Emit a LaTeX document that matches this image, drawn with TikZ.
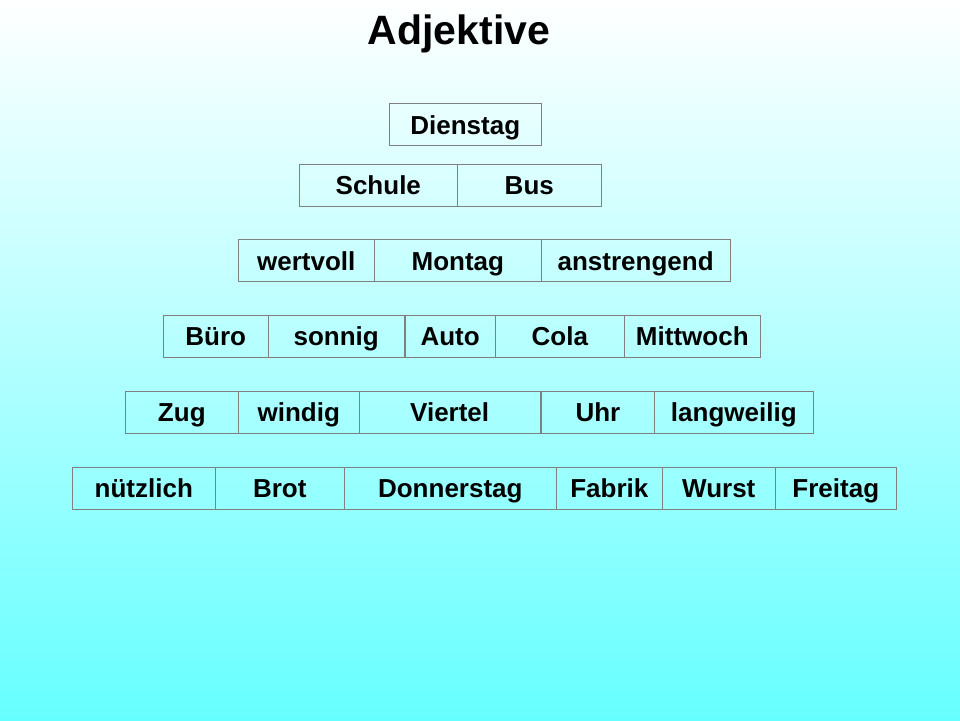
\documentclass[tikz,border=0pt]{standalone}
\usepackage{fontspec}
\setmainfont{Liberation Sans}
\usepackage{xcolor}
\usepackage{tikz}
\usetikzlibrary{positioning}
\definecolor{cyanbg}{HTML}{66FFFF}
\definecolor{boxline}{HTML}{808080}

\begin{document}
\begin{tikzpicture}[x=1pt, y=-1pt, node distance=0pt,
    word/.style={draw=boxline, line width=1pt, rectangle, inner sep=0pt, outer sep=0pt,
      minimum height=42pt, font=\fontsize{26}{30}\selectfont\bfseries,
      text height=18.6pt, text depth=0pt}]
           \fill[top color=white, bottom color=cyanbg] (0,0) rectangle (960,720);
           \node[font=\fontsize{41}{48}\selectfont\bfseries, text height=29.5pt, text depth=0pt, inner sep=0pt] (title) at (459,30) {Adjektive};
           % row 1
           \node[word, minimum width=152pt, anchor=west] (dienstag) at (389.3,124.7) {Dienstag};
           % row 2
           \node[word, minimum width=158pt, anchor=west] (schule) at (299.3,185.2) {Schule};
           \node[word, minimum width=144pt] (bus) [right=of schule] {Bus};
           % row 3
           \node[word, minimum width=136pt, anchor=west] (wertvoll) at (238.3,260.8) {wertvoll};
           \node[word, minimum width=167pt] (montag) [right=of wertvoll] {Montag};
           \node[word, minimum width=188.7pt] (anstrengend) [right=of montag] {anstrengend};
           % row 4
           \node[word, minimum width=105pt, anchor=west] (buero) at (163.3,336.5) {Büro};
           \node[word, minimum width=135.7pt] (sonnig) [right=of buero] {sonnig};
           \node[word, minimum width=90.3pt] (auto) [right=1pt of sonnig] {Auto};
           \node[word, minimum width=129pt] (cola) [right=of auto] {Cola};
           \node[word, minimum width=136pt] (mittwoch) [right=of cola] {Mittwoch};
           % row 5
           \node[word, minimum width=113pt, anchor=west] (zug) at (125.3,412) {Zug};
           \node[word, minimum width=121pt] (windig) [right=of zug] {windig};
           \node[word, minimum width=180.7pt] (viertel) [right=of windig] {Viertel};
           \node[word, minimum width=112.8pt] (uhr) [right=1.5pt of viertel] {Uhr};
           \node[word, minimum width=159pt] (langweilig) [right=of uhr] {langweilig};
           % row 6
           \node[word, minimum width=143pt, anchor=west] (nuetzlich) at (72.3,488) {nützlich};
           \node[word, minimum width=129pt] (brot) [right=of nuetzlich] {Brot};
           \node[word, minimum width=212pt] (donnerstag) [right=of brot] {Donnerstag};
           \node[word, minimum width=106pt] (fabrik) [right=of donnerstag] {Fabrik};
           \node[word, minimum width=113pt] (wurst) [right=of fabrik] {Wurst};
           \node[word, minimum width=121pt] (freitag) [right=of wurst] {Freitag};
        \end{tikzpicture}
\end{document}
